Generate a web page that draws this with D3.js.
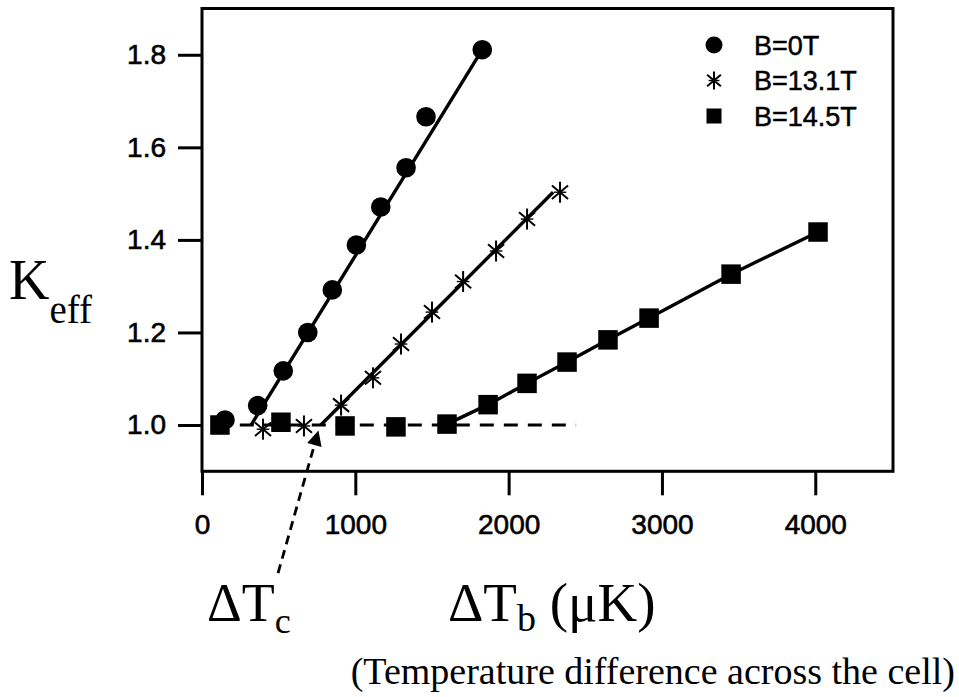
<!DOCTYPE html>
<html>
<head>
<meta charset="utf-8">
<script src="https://cdn.jsdelivr.net/npm/d3@7"></script>
<style>
  html, body { margin: 0; padding: 0; background: #fff; }
  svg { display: block; }
</style>
</head>
<body>
<svg id="chart" width="959" height="697"></svg>
<script>
// ---- data ----
const seriesNames = ["B=0T", "B=13.1T", "B=14.5T"];

const b0X = [150, 363, 530, 690, 850, 1007, 1166, 1331, 1461, 1828];
const b0Y = [1.011, 1.042, 1.117, 1.200, 1.292, 1.389, 1.471, 1.556, 1.666, 1.811];

const b131X = [398, 665, 907, 1115, 1298, 1500, 1703, 1918, 2120, 2335];
const b131Y = [0.991, 0.998, 1.043, 1.102, 1.175, 1.244, 1.310, 1.376, 1.445, 1.503];

const b145X = [117, 515, 933, 1265, 1598, 1866, 2120, 2381, 2648, 2916, 3451, 4018];
const b145Y = [1.000, 1.006, 0.998, 0.996, 1.002, 1.044, 1.090, 1.136, 1.184, 1.231, 1.326, 1.417];

// fitted lines (data units)
const fit0 = [[320, 1.0], [1828, 1.811]];
const fit131 = [[775, 1.0], [2290, 1.503]];
const fit145StartIndex = 4;
const baselineDash = [[90, 1.0], [2440, 1.0]];
// ΔTc arrow (tail -> tip), data units
const arrowTc = [[496, 0.680], [757, 0.985]];

const xTicks = [0, 1000, 2000, 3000, 4000];
const yTicks = [1.0, 1.2, 1.4, 1.6, 1.8];
const xDomain = [0, 4507];
const yDomain = [0.9, 1.9];

(function () {
// ---- layout ----
const svg = d3.select("#chart");
const pL = 202, pR = 893, pT = 8.5, pB = 471.3;
const x = d3.scaleLinear().domain(xDomain).range([pL, pR]);
const y = d3.scaleLinear().domain(yDomain).range([pB, pT]);

const sans = "'Liberation Sans', Arial, Helvetica, sans-serif";
const serif = "'Liberation Serif', 'Times New Roman', Times, serif";

// axes
const xAxis = d3.axisBottom(x).tickValues(xTicks).tickSize(24).tickPadding(14).tickFormat(d3.format("d"));
const yAxis = d3.axisLeft(y).tickValues(yTicks).tickSize(24).tickPadding(12).tickFormat(d3.format(".1f"));

const gx = svg.append("g").attr("transform", `translate(0,${pB})`).call(xAxis);
const gy = svg.append("g").attr("transform", `translate(${pL},0)`).call(yAxis);
[gx, gy].forEach(g => {
  g.select(".domain").remove();
  g.selectAll(".tick line").attr("stroke", "#000").attr("stroke-width", 3);
  g.selectAll(".tick text").attr("fill", "#000")
    .attr("stroke", "#000").attr("stroke-width", 0.6)
    .style("font-family", sans).style("font-size", "28px");
});
gx.selectAll(".tick text").attr("dy", "0.9em");

// frame
svg.append("rect")
  .attr("x", pL).attr("y", pT)
  .attr("width", pR - pL).attr("height", pB - pT)
  .attr("fill", "none").attr("stroke", "#000").attr("stroke-width", 3);

const line = d3.line().x(d => x(d[0])).y(d => y(d[1]));

// dashed baseline
svg.append("path").attr("d", line(baselineDash))
  .attr("fill", "none").attr("stroke", "#000").attr("stroke-width", 3.2)
  .attr("stroke-dasharray", "14,10");

// fit lines
const lw = 3.4;
svg.append("path").attr("d", line(fit0))
  .attr("fill", "none").attr("stroke", "#000").attr("stroke-width", lw);
svg.append("path").attr("d", line(fit131))
  .attr("fill", "none").attr("stroke", "#000").attr("stroke-width", lw);
const pts145 = b145X.map((v, i) => [v, b145Y[i]]);
svg.append("path").attr("d", line(pts145.slice(fit145StartIndex)))
  .attr("fill", "none").attr("stroke", "#000").attr("stroke-width", lw);

// markers
function asterisk(g, cx, cy, r, sw) {
  const angles = [90, 40, 140];
  angles.forEach(a => {
    const rad = a * Math.PI / 180;
    const dx = Math.cos(rad) * r, dy = Math.sin(rad) * r;
    g.append("line").attr("x1", cx - dx).attr("y1", cy - dy)
      .attr("x2", cx + dx).attr("y2", cy + dy)
      .attr("stroke", "#000").attr("stroke-width", sw);
  });
  g.append("line").attr("x1", cx - r * 0.6).attr("y1", cy).attr("x2", cx + r * 0.6).attr("y2", cy)
    .attr("stroke", "#000").attr("stroke-width", sw * 0.7);
}

const mk = svg.append("g");
b0X.forEach((v, i) => {
  mk.append("circle").attr("cx", x(v)).attr("cy", y(b0Y[i])).attr("r", 9.8).attr("fill", "#000");
});
b131X.forEach((v, i) => {
  asterisk(mk, x(v), y(b131Y[i]), 10.5, 2);
});
b145X.forEach((v, i) => {
  const s = 19.5;
  mk.append("rect").attr("x", x(v) - s / 2).attr("y", y(b145Y[i]) - s / 2)
    .attr("width", s).attr("height", s).attr("fill", "#000");
});

// legend
const legX = 714, legTextX = 754, legY0 = 45, legDy = 35.5;
const leg = svg.append("g");
seriesNames.forEach((name, i) => {
  const cy = legY0 + i * legDy;
  if (i === 0) leg.append("circle").attr("cx", legX).attr("cy", cy).attr("r", 8.5).attr("fill", "#000");
  if (i === 1) asterisk(leg, legX, cy, 9, 2);
  if (i === 2) leg.append("rect").attr("x", legX - 7.5).attr("y", cy - 7.5).attr("width", 15).attr("height", 15).attr("fill", "#000");
  leg.append("text").attr("x", legTextX).attr("y", cy).attr("dy", "0.36em")
    .attr("stroke", "#000").attr("stroke-width", 0.5)
    .style("font-family", sans).style("font-size", "27px").text(name);
});

// ΔTc arrow
svg.append("defs").append("marker")
  .attr("id", "ah").attr("viewBox", "0 0 10 10").attr("refX", 9).attr("refY", 5)
  .attr("markerWidth", 22).attr("markerHeight", 15).attr("markerUnits", "userSpaceOnUse")
  .attr("orient", "auto")
  .append("path").attr("d", "M0,0 L10,5 L0,10 Z").attr("fill", "#000");
svg.append("path").attr("d", line(arrowTc))
  .attr("fill", "none").attr("stroke", "#000").attr("stroke-width", 2.8)
  .attr("stroke-dasharray", "9,6")
  .attr("marker-end", "url(#ah)");

// labels
const tc = svg.append("text").attr("x", 207).attr("y", 621)
  .style("font-family", serif).style("font-size", "54px");
tc.append("tspan").text("ΔT");
tc.append("tspan").attr("dy", 12).style("font-size", "36px").text("c");

const tb = svg.append("text").attr("x", 448).attr("y", 621)
  .style("font-family", serif).style("font-size", "55px");
tb.append("tspan").text("ΔT");
tb.append("tspan").attr("dy", 10).style("font-size", "38px").text("b");
tb.append("tspan").attr("dy", -10).text(" (μK)");

const ke = svg.append("text").attr("x", 9).attr("y", 299)
  .style("font-family", serif).style("font-size", "56px");
ke.append("tspan").text("K");
ke.append("tspan").attr("dy", 24).style("font-size", "39px").text("eff");

svg.append("text").attr("x", 955).attr("y", 684).attr("text-anchor", "end")
  .style("font-family", serif).style("font-size", "38px")
  .text("(Temperature difference across the cell)");
})();
</script>
</body>
</html>
